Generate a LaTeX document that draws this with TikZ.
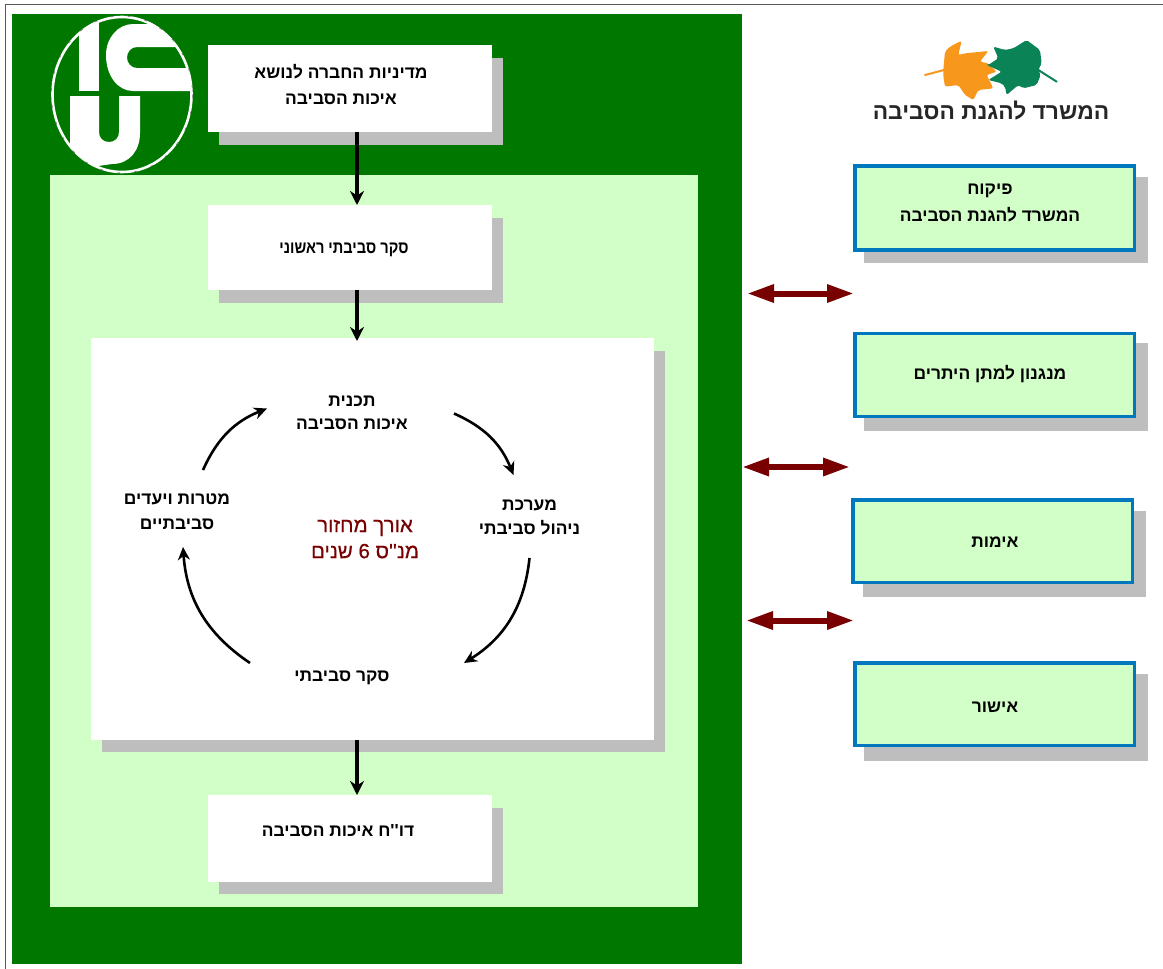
\documentclass[tikz,border=0pt]{standalone}
\usepackage{fontspec}
\usepackage{graphicx}
\usetikzlibrary{arrows.meta}
\TeXXeTstate=1
\newfontfamily\heb[Script=Hebrew]{Liberation Sans}
\newfontfamily\hebfb[Script=Hebrew,FakeBold=0.5]{Liberation Sans}
\newcommand{\hb}[1]{\beginR #1\endR}
\definecolor{dkgreen}{HTML}{007800}
\definecolor{ltgreen}{HTML}{D2FFC8}
\definecolor{shadowgray}{HTML}{BEBEBE}
\definecolor{bluebd}{HTML}{0078BE}
\definecolor{dkred}{HTML}{780000}
\definecolor{leafor}{HTML}{F7981D}
\definecolor{leafgr}{HTML}{0A8457}
\tikzset{
  whitebox/.style={fill=white,draw=none,inner sep=0pt,anchor=north west},
  rightbox/.style={fill=ltgreen,draw=bluebd,line width=3.5pt,inner sep=0pt,outer sep=0pt,anchor=north west,minimum width=279.5pt},
  txt/.style={font=\heb\bfseries\fontsize{17.4}{26}\selectfont,align=center,inner sep=0pt,text=black},
  redtxt/.style={font=\hebfb\fontsize{20.5}{26}\selectfont,align=center,inner sep=0pt,text=dkred},
  flow/.style={draw=black,line width=3.2pt,-{Stealth[length=14pt,width=14pt]}},
  cyc/.style={draw=black,line width=2.6pt,-{Stealth[length=13pt,width=12pt]}},
  dbl/.style={draw=dkred,line width=6pt,{Triangle[length=27pt,width=17pt]}-{Triangle[length=27pt,width=17pt]}},
}
\begin{document}
\begin{tikzpicture}[x=1pt,y=-1pt]
\useasboundingbox (0,0) rectangle (1163,969);
\fill[white] (0,0) rectangle (1163,969);
\draw[draw=black!65,line width=1.6pt] (5.5,969) -- (5.5,4.5) -- (1163,4.5);
\fill[dkgreen] (12,14) rectangle (742,964);
\fill[ltgreen] (50,175) rectangle (698,907);
% shadows
\fill[shadowgray] (219,58) rectangle (503,145);
\fill[shadowgray] (219,218) rectangle (503,303);
\fill[shadowgray] (102,351) rectangle (665,752);
\fill[shadowgray] (219,808) rectangle (503,894);
\fill[shadowgray] (863.5,177) rectangle (1147.7,263);
\fill[shadowgray] (863.5,343.3) rectangle (1147.7,431);
\fill[shadowgray] (862.5,511.3) rectangle (1146.3,597.3);
\fill[shadowgray] (863.5,674.3) rectangle (1147.7,760.7);
% white boxes
\node[whitebox,minimum width=284pt,minimum height=87pt] (b1) at (208,45) {};
\node[whitebox,minimum width=284pt,minimum height=85pt] (b2) at (208,205) {};
\node[whitebox,minimum width=563pt,minimum height=402pt] (big) at (90.5,338) {};
\node[whitebox,minimum width=284pt,minimum height=87pt] (b3) at (208,795) {};
% right boxes
\node[rightbox,minimum height=84pt] (r1) at (854.75,166) {};
\node[rightbox,minimum height=82.75pt] (r2) at (854.75,333.5) {};
\node[rightbox,minimum height=82.5pt] (r3) at (852.75,500) {};
\node[rightbox,minimum height=82.5pt] (r4) at (854.75,663) {};
% flow arrows
\draw[flow] (b1.south -| 357,0) -- (b2.north -| 357,0);
\draw[flow] (b2.south -| 357,0) -- ([yshift=-3pt]big.north -| 357,0);
\draw[flow] (big.south -| 357,0) -- (b3.north -| 357,0);
% texts
\node[txt] (t1) at (341,84.5) {\hb{מדיניות החברה לנושא}\\\hb{איכות הסביבה}};
\node[txt] (t2) at (344,250) {\scalebox{0.84}[1]{\hb{סקר סביבתי ראשוני}}};
\node[txt] (t3) at (338,831) {\hb{דו''ח איכות הסביבה}};
\node[txt] (plan) at (352,412.5) {\hb{תכנית}\\[-3pt]\hb{איכות הסביבה}};
\node[txt] (mgmt) at (529.5,517) {\hb{מערכת}\\[-2pt]\hb{ניהול סביבתי}};
\node[txt] (surv) at (342,678) {\hb{סקר סביבתי}};
\node[txt] (goals) at (177,511.5) {\hb{מטרות ויעדים}\\[-1pt]\hb{סביבתיים}};
\node[redtxt] (cycle) at (365,539) {\hb{אורך מחזור}\\\hb{מנ''ס 6 שנים}};
\node[txt] (rt1) at (990,202.5) {\hb{פיקוח}\\[1pt]\hb{המשרד להגנת הסביבה}};
\node[txt] (rt2) at (990,374) {\hb{מנגנון למתן היתרים}};
\node[txt] (rt3) at (995,542) {\hb{אימות}};
\node[txt] (rt4) at (995,707) {\hb{אישור}};
% cycle arrows
\draw[cyc] ([shift={(102,1)}]plan.center) to[bend left=22] ([shift={(-16,-42)}]mgmt.center);
\draw[cyc] ([shift={(0,41)}]mgmt.center) to[bend left=26] ([shift={(122,-15)}]surv.center);
\draw[cyc] ([shift={(-92,-15)}]surv.center) to[bend left=26] ([shift={(6,35.5)}]goals.center);
\draw[cyc] ([shift={(26,-41.5)}]goals.center) to[bend left=22] ([shift={(-85,-4)}]plan.center);
% double arrows
\coordinate (a1l) at (747,293.5); \coordinate (a1r) at (854,293.5);
\coordinate (a2l) at (742,467); \coordinate (a2r) at (850,467);
\coordinate (a3l) at (746,620.5); \coordinate (a3r) at (854,620.5);
\draw[dbl] (a1l) -- (a1r);
\draw[dbl] (a2l) -- (a2r);
\draw[dbl] (a3l) -- (a3r);
% ICU logo
\begin{scope}
\clip (122,94.5) ellipse [x radius=69.5,y radius=77.5];
\fill[white] (79,10) rectangle (99,91);
\fill[white] (106,55) .. controls (106,38) and (118,24) .. (133,24) -- (200,24)
  -- (200,47) -- (137,47) .. controls (131,47) and (127,52) .. (127,57.5)
  .. controls (127,63) and (131,68) .. (137,68) -- (200,68) -- (200,91) -- (133,91)
  .. controls (118,91) and (106,76) .. (106,55) -- cycle;
\fill[white] (79,96) -- (99,96) -- (99,132) .. controls (99,138) and (103,142) .. (109,142)
  .. controls (115,142) and (119,138) .. (119,132) -- (119,96) -- (140,96) -- (140,133)
  .. controls (140,150) and (130,164) .. (112,164) -- (70,170) -- (70,96) -- cycle;
\end{scope}
\draw[white,line width=2.6pt] (122,94.5) ellipse [x radius=69.5,y radius=77.5];
\draw[black!60,line width=0.5pt,dash pattern=on 3pt off 14pt] (122,94.5) ellipse [x radius=70.5,y radius=78.5];
% leaves
\begin{scope}[shift={(850,20)},x=0.3333pt,y=-0.3333pt]
\draw[leafor,line width=2pt,line cap=round] (225,165) -- (282,150);
\fill[leafor,rounded corners=2pt] (280,150) -- (285,95) -- (300,80) -- (335,62) -- (325,105) -- (345,100) -- (415,93) -- (390,125) -- (415,130) -- (440,155) -- (410,165) -- (430,205) -- (385,210) -- (370,240) -- (345,225) -- (325,195) -- (285,200) -- (280,170) -- cycle;
\draw[leafgr,line width=2pt,line cap=round] (565,150) -- (620,185);
\fill[leafgr,rounded corners=2pt] (415,135) -- (445,115) -- (430,80) -- (465,90) -- (490,85) -- (530,60) -- (570,90) -- (575,130) -- (565,150) -- (572,165) -- (560,195) -- (520,205) -- (505,195) -- (470,225) -- (465,200) -- (455,190) -- (415,180) -- (455,155) -- (410,135) -- cycle;
\end{scope}
\node[font=\heb\bfseries\fontsize{22.8}{26}\selectfont,text=black!85,inner sep=0pt] (office) at (991,111) {\hb{המשרד להגנת הסביבה}};
\end{tikzpicture}
\end{document}
